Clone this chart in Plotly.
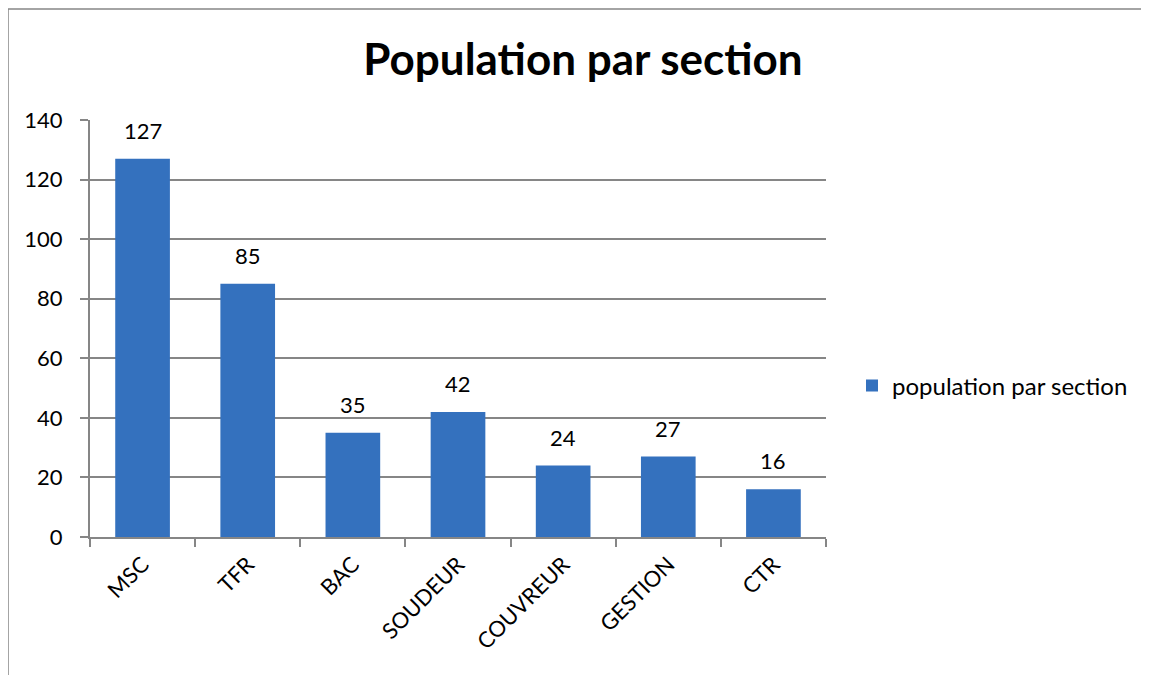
import plotly.graph_objects as go

categories = ["MSC", "TFR", "BAC", "SOUDEUR", "COUVREUR", "GESTION", "CTR"]
values = [127, 85, 35, 42, 24, 27, 16]
series_name = "population par section"
title_text = "Population par section"
y_ticks = [0, 20, 40, 60, 80, 100, 120, 140]

W, H = 1149, 675
OFF = 8  # page body margin
L, R, T, B = 90 - OFF, 1149 - (826 - OFF), 120 - OFF, 675 - (537 - OFF)
pw, ph = W - L - R, H - T - B
FONT = "Lato"
GRAY = "#868686"
BAR = "#3471be"

fig = go.Figure()
fig.add_trace(go.Bar(
    x=categories, y=values, name=series_name,
    marker=dict(color=BAR, line=dict(width=0)),
    width=0.52,
))

for c, v in zip(categories, values):
    fig.add_annotation(x=c, y=v, text=str(v), showarrow=False,
                       yanchor="bottom", yshift=13,
                       font=dict(family=FONT, size=22, color="#000000"))

def px_x(p):
    return (p - OFF - L) / pw

def px_y(p):
    return (H - B - (p - OFF)) / ph

# outer chart frame: only left and top edges are visible in the view
fig.add_shape(type="line", xref="paper", yref="paper",
              x0=px_x(8), x1=px_x(8), y0=px_y(720), y1=px_y(9),
              line=dict(color=GRAY, width=1.5), layer="below")
fig.add_shape(type="line", xref="paper", yref="paper",
              x0=px_x(8), x1=px_x(1200), y0=px_y(9), y1=px_y(9),
              line=dict(color=GRAY, width=1.5), layer="below")

fig.update_layout(
    width=W, height=H,
    margin=dict(l=L, r=R, t=T, b=B),
    paper_bgcolor="white", plot_bgcolor="white",
    font=dict(family=FONT, size=22, color="#000000"),
    title=dict(text="<b>" + title_text + "</b>", x=(583 - OFF) / W, xanchor="center",
               y=1 - (60 - OFF) / H, yanchor="middle",
               font=dict(family=FONT, size=44, color="#000000")),
    showlegend=True,
    legend=dict(x=px_x(852), xanchor="left", y=px_y(386), yanchor="middle",
                font=dict(family=FONT, size=24), itemwidth=30,
                bgcolor="rgba(0,0,0,0)"),
    bargap=0.48,
)
fig.update_xaxes(
    type="category", showline=True, linecolor=GRAY, linewidth=2,
    ticks="outside", tickson="boundaries", ticklen=8, tickcolor=GRAY, tickwidth=2,
    tickangle=-45, tickfont=dict(family=FONT, size=22), ticklabelstandoff=4,
    showgrid=False, range=[-0.5, len(categories) - 0.5],
)
fig.update_yaxes(
    range=[0, 140], tickvals=y_ticks, showline=True, linecolor=GRAY, linewidth=2,
    ticks="outside", ticklen=8, tickcolor=GRAY, tickwidth=2, ticklabelstandoff=13,
    showgrid=True, gridcolor=GRAY, gridwidth=1.5,
    tickfont=dict(family=FONT, size=22), zeroline=False,
)

fig.write_html("out.html")
